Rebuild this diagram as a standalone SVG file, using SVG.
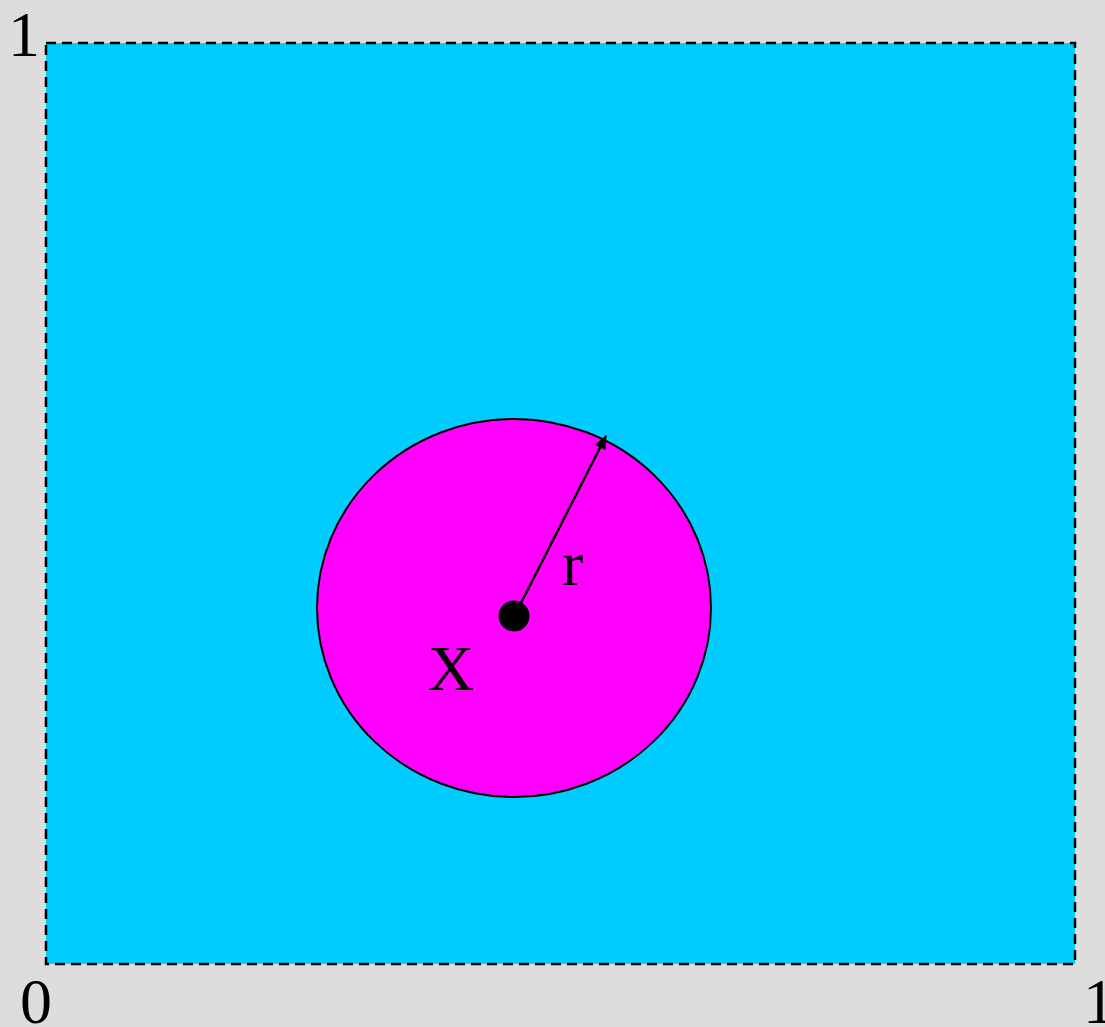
<svg xmlns="http://www.w3.org/2000/svg" width="1105" height="1027" viewBox="0 0 1105 1027">
<style>
.t{font-family:"Liberation Serif","Times New Roman",serif;font-size:64px;fill:#000}
</style>
<defs>
<marker id="ah" markerWidth="14" markerHeight="12" refX="13" refY="6" orient="auto" markerUnits="userSpaceOnUse" viewBox="0 0 14 12">
<path d="M0,0 L14,6 L0,12 Z" fill="#000"/>
</marker>
</defs>
<rect width="1105" height="1027" fill="#dddddd"/>
<g id="square">
<rect x="46" y="43" width="1029" height="921" fill="#00ccff" stroke="#000" stroke-width="2.5" stroke-dasharray="10,6"/>
</g>
<g id="disk">
<ellipse cx="514" cy="608" rx="197" ry="189" fill="#ff00ff" stroke="#000" stroke-width="2"/>
</g>
<g id="center">
<circle cx="514" cy="616" r="15.5" fill="#000"/>
</g>
<g id="connectors">
<line x1="521" y1="603" x2="606" y2="436" stroke="#000" stroke-width="2.5" marker-end="url(#ah)"/>
</g>
<g id="labels">
<text class="t" x="8" y="56">1</text>
<text class="t" x="20" y="1023">0</text>
<text class="t" x="1083" y="1023">1</text>
<text class="t" x="428" y="690">X</text>
<text class="t" x="562" y="585">r</text>
</g>
</svg>
